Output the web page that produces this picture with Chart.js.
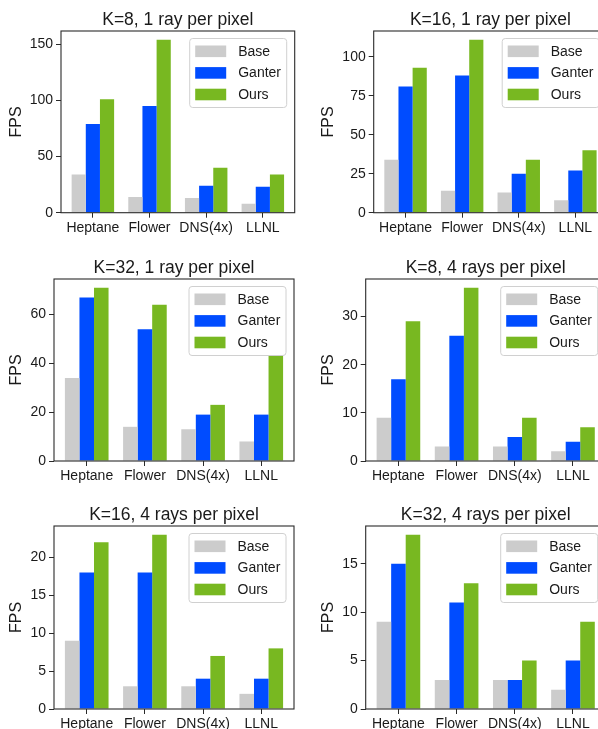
<!DOCTYPE html>
<html>
<head>
<meta charset="utf-8">
<script src="https://cdn.jsdelivr.net/npm/chart.js@4.4.0/dist/chart.umd.min.js"></script>
<style>
html, body { margin:0; padding:0; background:#ffffff; width:598px; height:729px; overflow:hidden; }
body { position:relative; }
canvas { position:absolute; }
</style>
</head>
<body>
<canvas id="c0"></canvas>
<canvas id="c1"></canvas>
<canvas id="c2"></canvas>
<canvas id="c3"></canvas>
<canvas id="c4"></canvas>
<canvas id="c5"></canvas>
<script>
// ---- data ----
const categories = ['Heptane', 'Flower', 'DNS(4x)', 'LLNL'];
const seriesNames = ['Base', 'Ganter', 'Ours'];
const panelTitles = [
  'K=8, 1 ray per pixel', 'K=16, 1 ray per pixel',
  'K=32, 1 ray per pixel', 'K=8, 4 rays per pixel',
  'K=16, 4 rays per pixel', 'K=32, 4 rays per pixel'
];

const base_K8_1ray   = [34, 14, 13, 8];
const ganter_K8_1ray = [79, 95, 24, 23];
const ours_K8_1ray   = [101, 154, 40, 34];

const base_K16_1ray   = [34, 14, 13, 8];
const ganter_K16_1ray = [81, 88, 25, 27];
const ours_K16_1ray   = [93, 111, 34, 40];

const base_K32_1ray   = [34, 14, 13, 8];
const ganter_K32_1ray = [67, 54, 19, 19];
const ours_K32_1ray   = [71, 64, 23, 43];

const base_K8_4ray   = [9, 3, 3, 2];
const ganter_K8_4ray = [17, 26, 5, 4];
const ours_K8_4ray   = [29, 36, 9, 7];

const base_K16_4ray   = [9, 3, 3, 2];
const ganter_K16_4ray = [18, 18, 4, 4];
const ours_K16_4ray   = [22, 23, 7, 8];

const base_K32_4ray   = [9, 3, 3, 2];
const ganter_K32_4ray = [15, 11, 3, 5];
const ours_K32_4ray   = [18, 13, 5, 9];

const yTicks_K8_1ray  = [0, 50, 100, 150];
const yTicks_K16_1ray = [0, 25, 50, 75, 100];
const yTicks_K32_1ray = [0, 20, 40, 60];
const yTicks_K8_4ray  = [0, 10, 20, 30];
const yTicks_K16_4ray = [0, 5, 10, 15, 20];
const yTicks_K32_4ray = [0, 5, 10, 15];

const panelSeries = [
  [base_K8_1ray, ganter_K8_1ray, ours_K8_1ray],
  [base_K16_1ray, ganter_K16_1ray, ours_K16_1ray],
  [base_K32_1ray, ganter_K32_1ray, ours_K32_1ray],
  [base_K8_4ray, ganter_K8_4ray, ours_K8_4ray],
  [base_K16_4ray, ganter_K16_4ray, ours_K16_4ray],
  [base_K32_4ray, ganter_K32_4ray, ours_K32_4ray]
];
const panelYTicks = [yTicks_K8_1ray, yTicks_K16_1ray, yTicks_K32_1ray, yTicks_K8_4ray, yTicks_K16_4ray, yTicks_K32_4ray];

// ---- styles / layout ----
const seriesColors = ['#cccccc', '#004cff', '#78b821'];
const FONT = 'Liberation Sans';
const TEXT = '#1a1a1a';
const AXIS = '#2a2a2a';

// canvas box (cx,cy,cw,ch) and plot rectangle (L,T,R,B) in page px; labelX = y-title center
const layoutBoxes = [
  {cx:0,   cy:0,   cw:299, ch:245, L:61,    T:31,  R:294.7, B:212.7, labelX:17},
  {cx:299, cy:0,   cw:321, ch:245, L:373.7, T:31,  R:607.2, B:212.7, labelX:329},
  {cx:0,   cy:245, cw:299, ch:245, L:54,    T:279, R:294,   B:461,   labelX:17},
  {cx:299, cy:245, cw:321, ch:245, L:365.7, T:279, R:605.7, B:461,   labelX:329},
  {cx:0,   cy:490, cw:299, ch:260, L:54,    T:526, R:294,   B:709,   labelX:17},
  {cx:299, cy:490, cw:321, ch:260, L:365.7, T:526, R:605.7, B:709,   labelX:329}
];

function decorPlugin(title) {
  return {
    id: 'decor',
    afterDraw(chart) {
      const ctx = chart.ctx, ca = chart.chartArea;
      ctx.save();
      // frame (spines)
      ctx.strokeStyle = AXIS;
      ctx.lineWidth = 1.1;
      ctx.strokeRect(ca.left, ca.top, ca.right - ca.left, ca.bottom - ca.top);
      // title
      ctx.fillStyle = TEXT;
      ctx.font = '17.5px "' + FONT + '"';
      ctx.textAlign = 'center';
      ctx.textBaseline = 'middle';
      ctx.fillText(title, (ca.left + ca.right) / 2, ca.top - 11);
      // legend
      const bw = 97, bh = 69;
      const bx = ca.right - 8.5 - bw, by = ca.top + 7;
      ctx.beginPath();
      ctx.roundRect(bx + 0.5, by + 0.5, bw, bh, 3);
      ctx.fillStyle = 'rgba(255,255,255,0.8)';
      ctx.fill();
      ctx.strokeStyle = '#d0d0d0';
      ctx.lineWidth = 1;
      ctx.stroke();
      ctx.font = '14px "' + FONT + '"';
      ctx.textAlign = 'left';
      chart.data.datasets.forEach((ds, k) => {
        const cyy = by + 13.3 + k * 21.6;
        ctx.fillStyle = ds.backgroundColor;
        ctx.fillRect(bx + 6, cyy - 5.8, 31, 11.6);
        ctx.fillStyle = TEXT;
        ctx.fillText(ds.label, bx + 49, cyy + 0.5);
      });
      ctx.restore();
    }
  };
}

function makeChart(i) {
  const g = layoutBoxes[i];
  const series = panelSeries[i];
  const yTicks = panelYTicks[i];
  const cv = document.getElementById('c' + i);
  cv.width = g.cw; cv.height = g.ch;
  cv.style.left = g.cx + 'px'; cv.style.top = g.cy + 'px';
  cv.style.width = g.cw + 'px'; cv.style.height = g.ch + 'px';

  const yTitleSize = 16;
  const scaleLeft = g.labelX - g.cx - yTitleSize * 1.2 / 2;
  const yW = (g.L - g.cx) - scaleLeft;
  const xH = 30;
  const yMax = Math.max(...series.flat()) * 1.05;

  new Chart(cv, {
    type: 'bar',
    data: {
      datasets: seriesNames.map((name, k) => ({
        label: name,
        data: series[k].map((v, j) => ({x: j, y: v})),
        backgroundColor: seriesColors[k],
        borderWidth: 0,
        categoryPercentage: 0.75,
        barPercentage: 1.0
      }))
    },
    options: {
      responsive: false,
      animation: false,
      devicePixelRatio: 1,
      layout: { padding: {
        left: scaleLeft,
        top: g.T - g.cy,
        right: g.cx + g.cw - g.R,
        bottom: g.cy + g.ch - g.B - xH
      }},
      plugins: { legend: {display: false}, tooltip: {enabled: false}, title: {display: false} },
      scales: {
        x: {
          type: 'linear', min: -0.5625, max: 3.5625, offset: false,
          afterBuildTicks: s => { s.ticks = categories.map((c, j) => ({value: j})); },
          afterFit: s => { s.height = xH; },
          ticks: {
            callback: v => categories[v],
            font: {family: FONT, size: 14}, color: TEXT,
            padding: 2, maxRotation: 0, autoSkip: false
          },
          grid: {display: true, drawOnChartArea: false, drawTicks: true, tickLength: 5, color: AXIS, offset: false},
          border: {display: false}
        },
        y: {
          type: 'linear', min: 0, max: yMax,
          afterBuildTicks: s => { s.ticks = yTicks.map(v => ({value: v})); },
          afterFit: s => { s.width = yW; },
          ticks: { font: {family: FONT, size: 14}, color: TEXT, padding: 3 },
          grid: {display: true, drawOnChartArea: false, drawTicks: true, tickLength: 5, color: AXIS},
          border: {display: false},
          title: { display: true, text: 'FPS', font: {family: FONT, size: yTitleSize}, color: TEXT, padding: 0 }
        }
      }
    },
    plugins: [decorPlugin(panelTitles[i])]
  });
}

for (let i = 0; i < 6; i++) makeChart(i);
</script>
</body>
</html>
